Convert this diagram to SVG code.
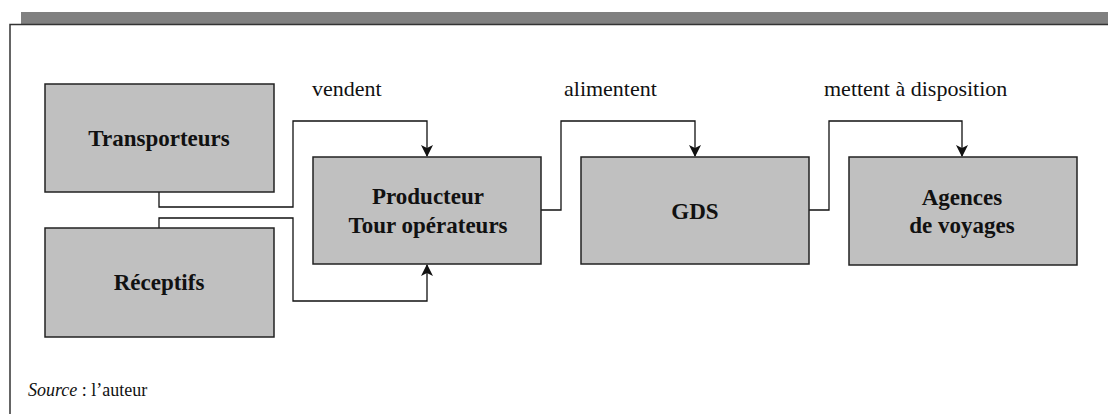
<svg xmlns="http://www.w3.org/2000/svg" width="1108" height="414" viewBox="0 0 1108 414">
<style>
.box{fill:#c0c0c0;stroke:#222;stroke-width:1.5}
.lbl{font-family:"Liberation Serif",serif;font-size:23px;font-weight:bold;fill:#111;text-anchor:middle}
.edge{font-family:"Liberation Serif",serif;font-size:22px;fill:#111}
.conn{fill:none;stroke:#111;stroke-width:1.3}
</style>
<defs>
<marker id="arr" markerWidth="12" markerHeight="14" refX="11" refY="6" orient="auto" markerUnits="userSpaceOnUse">
<path d="M0,0 L12,6 L0,12 L3,6 Z" fill="#111"/>
</marker>
</defs>
<rect x="0" y="0" width="1108" height="414" fill="#fff"/>
<rect x="21" y="12" width="1087" height="12" fill="#808080"/>
<path d="M10,414 V24.5 H1108" fill="none" stroke="#333" stroke-width="1.5"/>
<g id="connectors">
<path class="conn" d="M159,192 V207 H293 V121 H427 V156" marker-end="url(#arr)"/>
<path class="conn" d="M159,228 V218 H293 V301 H427 V265" marker-end="url(#arr)"/>
<path class="conn" d="M541,210 H561 V121 H695 V156" marker-end="url(#arr)"/>
<path class="conn" d="M809,210 H829 V121 H962 V156" marker-end="url(#arr)"/>
<text class="edge" x="312" y="96">vendent</text>
<text class="edge" x="564" y="96">alimentent</text>
<text class="edge" x="824" y="96">mettent à disposition</text>
</g>
<g id="transporteurs">
<rect class="box" x="45" y="84" width="229" height="108"/>
<text class="lbl" x="159" y="146">Transporteurs</text>
</g>
<g id="receptifs">
<rect class="box" x="45" y="228" width="229" height="109"/>
<text class="lbl" x="159" y="290">Réceptifs</text>
</g>
<g id="producteur">
<rect class="box" x="313" y="157" width="228" height="107"/>
<text class="lbl" x="428" y="204">Producteur</text>
<text class="lbl" x="428" y="233">Tour opérateurs</text>
</g>
<g id="gds">
<rect class="box" x="581" y="157" width="228" height="107"/>
<text class="lbl" x="695" y="219">GDS</text>
</g>
<g id="agences">
<rect class="box" x="849" y="157" width="228" height="108"/>
<text class="lbl" x="962" y="205">Agences</text>
<text class="lbl" x="962" y="233">de voyages</text>
</g>
<text x="28" y="396" font-family="'Liberation Serif',serif" font-size="18" fill="#111"><tspan font-style="italic">Source</tspan> : l’auteur</text>
</svg>
